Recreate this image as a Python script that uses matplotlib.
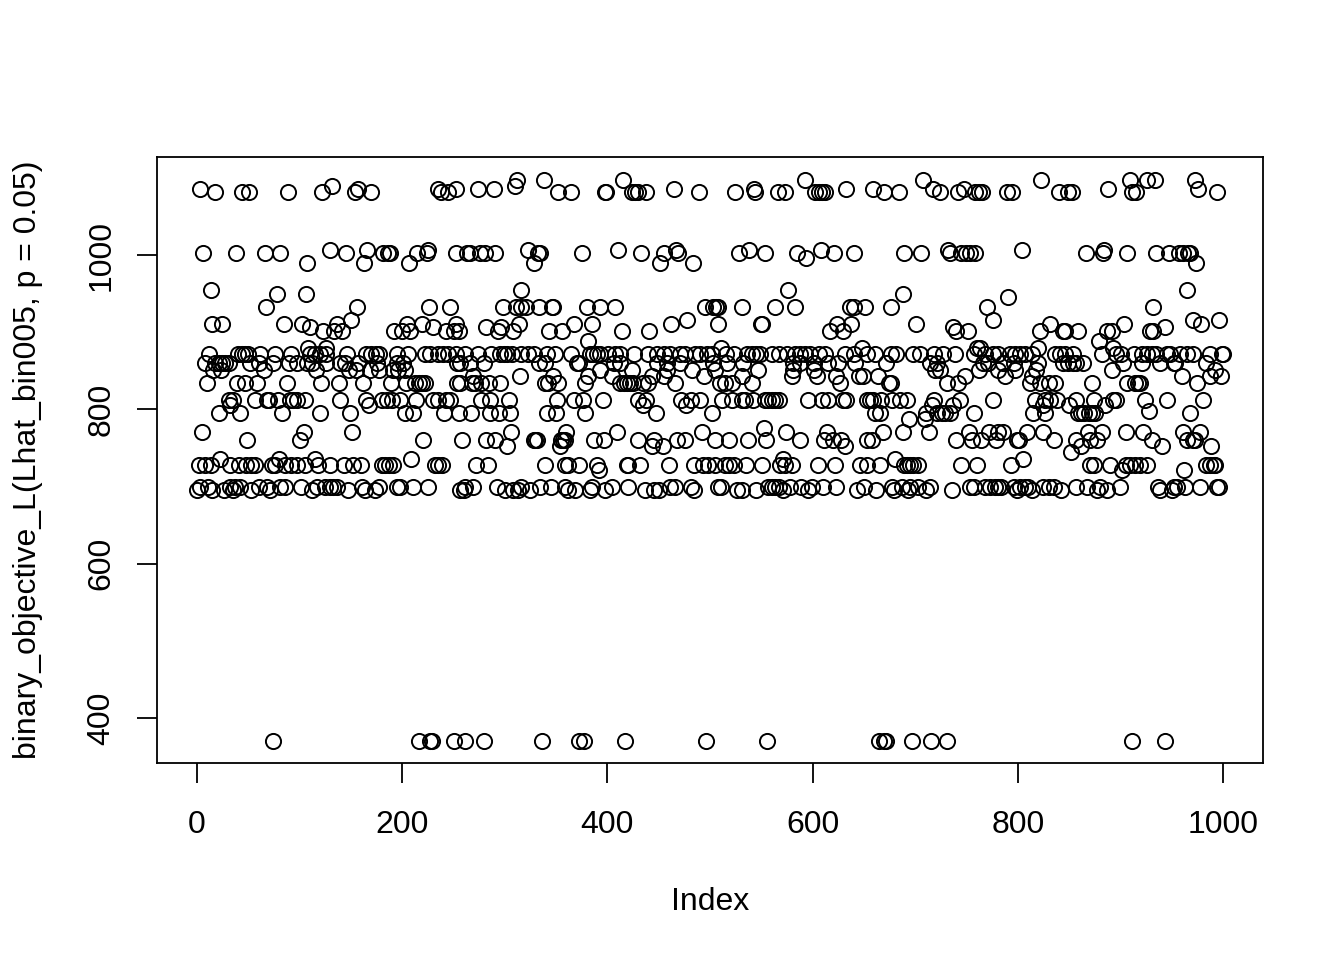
import matplotlib
matplotlib.use('Agg')
import matplotlib.pyplot as plt

# index positions, one list for each objective value
idx_1097 = [312, 338, 415, 593, 708, 823, 909, 926, 934, 973]
idx_1089 = [132, 310]
idx_1085 = [3, 157, 235, 252, 274, 289, 465, 543, 633, 659, 717, 748, 888, 976]
idx_1082 = [18, 44, 51, 89, 122, 154, 170, 238, 245, 352, 365, 398, 399, 424, 427, 430, 438, 489,
            524, 544, 566, 573, 602, 606, 609, 612, 670, 684, 724, 742, 758, 762, 765, 789, 794,
            840, 849, 853, 911, 915, 994]
idx_1006 = [130, 166, 225, 323, 410, 467, 538, 608, 732, 804, 884]
idx_1002 = [6, 38, 66, 81, 145, 181, 186, 188, 214, 224, 252, 263, 266, 276, 281, 290, 332, 334,
            375, 433, 455, 469, 528, 554, 585, 621, 640, 689, 706, 734, 745, 750, 753, 758, 866,
            883, 906, 935, 947, 957, 961, 966, 968]
idx_996 = [594]
idx_989 = [107, 163, 207, 328, 451, 483, 974]
idx_955 = [14, 316, 576, 965]
idx_950 = [78, 106, 688]
idx_945 = [790]
idx_933 = [67, 156, 226, 247, 298, 311, 316, 321, 333, 346, 347, 380, 393, 407, 495, 503, 506, 508,
           531, 563, 583, 636, 640, 651, 676, 770, 932]
idx_916 = [150, 478, 776, 971, 996]
idx_911 = [15, 24, 85, 102, 136, 205, 219, 252, 314, 367, 385, 462, 508, 550, 551, 624, 637,
           701, 831, 904, 979]
idx_907 = [110, 230, 282, 296, 737, 943]
idx_902 = [123, 134, 141, 192, 200, 208, 243, 250, 255, 293, 308, 343, 356, 414, 441, 617, 630, 740,
           751, 822, 844, 846, 859, 887, 892, 929, 932]
idx_888 = [381, 879]
idx_880 = [108, 126, 511, 648, 760, 763, 820, 893]
idx_872 = [12, 40, 44, 47, 50, 61, 76, 92, 110, 115, 120, 126, 146, 165, 170, 174, 177, 195, 206,
           222, 227, 235, 240, 245, 252, 261, 274, 287, 295, 299, 302, 307, 316, 323, 328, 341,
           349, 365, 383, 386, 390, 393, 401, 407, 412, 426, 440, 448, 455, 461, 471, 476, 485,
           490, 497, 502, 516, 523, 536, 541, 545, 549, 560, 567, 575, 583, 588, 593, 597, 606,
           612, 632, 640, 653, 661, 676, 681, 698, 705, 718, 727, 739, 757, 768, 776, 781, 792,
           797, 802, 807, 814, 836, 841, 846, 854, 882, 896, 901, 913, 921, 926, 931, 935, 945,
           948, 958, 965, 971, 987, 999, 1000]
idx_860 = [8, 18, 21, 24, 27, 31, 52, 60, 74, 90, 97, 107, 112, 126, 139, 144, 157, 175, 195, 201,
           253, 256, 266, 280, 333, 339, 370, 372, 406, 412, 448, 458, 471, 503, 517, 532,
           581, 588, 601, 615, 625, 641, 672, 714, 721, 766, 771, 786, 796, 820, 844, 849, 854,
           857, 864, 903, 921, 939, 952, 953, 983]
idx_851 = [16, 23, 65, 116, 148, 155, 169, 177, 191, 196, 203, 393, 424, 458, 482, 505, 547,
           581, 601, 719, 724, 762, 781, 797, 818, 892, 992]
idx_843 = [269, 315, 347, 381, 404, 443, 455, 494, 531, 580, 604, 623, 645, 649, 664, 749, 788,
           814, 960, 987, 998]
idx_834 = [10, 39, 47, 58, 88, 121, 138, 162, 189, 204, 212, 216, 219, 222, 253, 256, 268, 271, 277,
           285, 295, 339, 342, 352, 378, 412, 416, 419, 422, 425, 435, 440, 466, 510, 515,
           521, 541, 627, 674, 676, 731, 742, 812, 822, 830, 836, 872, 906, 914, 917, 919, 975]
idx_812 = [31, 35, 57, 68, 70, 79, 91, 94, 97, 105, 139, 165, 180, 185, 190, 198, 213, 230, 235, 243,
           247, 277, 286, 304, 351, 367, 376, 396, 430, 438, 472, 481, 490, 512, 521, 531,
           534, 542, 554, 557, 560, 563, 567, 596, 609, 615, 630, 633, 653, 656, 659, 667, 677,
           685, 692, 718, 744, 776, 817, 827, 831, 838, 857, 874, 893, 896, 924, 945, 981]
idx_806 = [32, 168, 435, 477, 716, 737, 825, 850, 885]
idx_798 = [928]
idx_795 = [21, 42, 83, 120, 149, 203, 211, 241, 255, 267, 286, 294, 305, 341, 350, 378, 447, 502,
           661, 666, 711, 721, 726, 729, 734, 757, 815, 827, 859, 862, 865, 869, 872, 875, 968]
idx_788 = [694, 710]
idx_776 = [553]
idx_770 = [5, 104, 151, 306, 360, 409, 492, 574, 614, 669, 688, 713, 752, 772, 781, 786, 809, 825,
           868, 882, 905, 922, 961, 978]
idx_760 = [49, 100, 220, 258, 282, 290, 329, 328, 331, 355, 357, 359, 387, 397, 430, 445, 468, 476,
           505, 519, 537, 555, 588, 611, 620, 628, 653, 658, 740, 755, 764, 779, 799, 801, 835,
           857, 870, 877, 931, 965, 971, 973]
idx_752 = [302, 354, 443, 454, 632, 862, 941, 988]
idx_745 = [852]
idx_735 = [22, 80, 115, 209, 571, 680, 805]
idx_728 = [2, 8, 14, 32, 41, 48, 53, 57, 73, 76, 86, 92, 97, 105, 118, 130, 143, 152, 160, 180,
           183, 187, 191, 232, 235, 239, 272, 284, 339, 359, 362, 372, 390, 419, 420, 432, 460,
           484, 493, 498, 505, 515, 519, 523, 535, 551, 568, 573, 580, 605, 622,
           646, 653, 666, 689, 692, 695, 698, 703, 745, 760, 793, 870, 874, 890, 905, 909,
           914, 919, 926, 983, 987, 991, 992]
idx_721 = [392, 902, 962]
idx_700 = [3, 11, 32, 37, 42, 60, 68, 81, 86, 101, 117, 125, 130, 133, 136, 161, 177, 195, 198, 211,
           225, 261, 269, 292, 316, 334, 345, 359, 385, 404, 420, 461, 466, 481, 508, 511, 557,
           560, 563, 567, 578, 589, 599, 610, 623, 650, 677, 687, 695, 703, 714, 753, 757, 768,
           773, 778, 781, 784, 796, 802, 807, 810, 825, 830, 835, 857, 867, 880, 900, 937, 952,
           955, 963, 978, 994, 996]
idx_696 = [0, 15, 26, 35, 53, 71, 112, 147, 164, 173, 256, 260, 300, 308, 313, 325, 362, 368, 383,
           398, 437, 445, 450, 484, 526, 531, 545, 571, 596, 643, 662, 679, 693, 711, 736, 799,
           814, 842, 877, 887, 939, 950]
idx_370 = [74, 216, 227, 229, 250, 261, 280, 336, 372, 377, 417, 496, 556, 665, 670, 672, 697, 715,
           731, 911, 943]

levels = [(1097, idx_1097), (1089, idx_1089), (1085, idx_1085), (1082, idx_1082), (1006, idx_1006),
          (1002, idx_1002), (996, idx_996), (989, idx_989), (955, idx_955), (950, idx_950),
          (945, idx_945), (933, idx_933), (916, idx_916), (911, idx_911), (907, idx_907),
          (902, idx_902), (888, idx_888), (880, idx_880), (872, idx_872), (860, idx_860),
          (851, idx_851), (843, idx_843), (834, idx_834), (812, idx_812), (806, idx_806),
          (798, idx_798), (795, idx_795), (788, idx_788), (776, idx_776), (770, idx_770),
          (760, idx_760), (752, idx_752), (745, idx_745), (735, idx_735), (728, idx_728),
          (721, idx_721), (700, idx_700), (696, idx_696), (370, idx_370)]

x_ticks = [0, 200, 400, 600, 800, 1000]
y_ticks = [400, 600, 800, 1000]

plt.rcParams['font.family'] = ['Liberation Sans', 'DejaVu Sans']

W, H = 1344, 960
fig = plt.figure(figsize=(W / 100, H / 100), dpi=100)
ax = fig.add_axes([157 / W, 1 - 763 / H, (1263 - 157) / W, (763 - 157) / H])

x = [i for value, indices in levels for i in indices]
y = [value for value, indices in levels for i in indices]
ax.plot(x, y, 'o', mfc='none', mec='black', mew=1.4, ms=10.9, ls='none')

ax.set_xlim(-39, 1039)
ax.set_ylim(341.7, 1127)
ax.set_xticks(x_ticks)
ax.set_yticks(y_ticks)
ax.tick_params(length=14.4, width=1.3, labelsize=23)
ax.tick_params(axis='x', pad=19.5)
ax.tick_params(axis='y', pad=15)
plt.setp(ax.get_yticklabels(), rotation=90, va='center')
for side in ax.spines.values():
    side.set_linewidth(1.3)

ax.set_xlabel('Index', fontsize=23, labelpad=34)
ax.set_ylabel('binary_objective_L(Lhat_bin005, p = 0.05)', fontsize=23, labelpad=31)

fig.savefig('out.png', dpi=100)
